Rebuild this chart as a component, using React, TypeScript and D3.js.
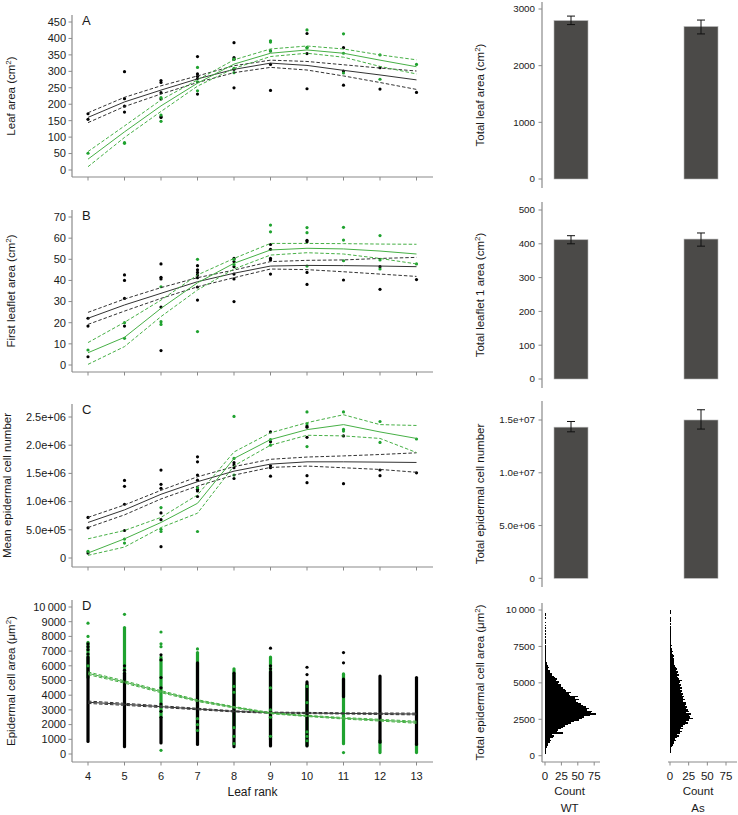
import React from 'react';
import * as d3 from 'd3';

const ranks = [4, 5, 6, 7, 8, 9, 10, 11, 12, 13];
const genotypes = ['WT', 'As'];

// A: leaf area (cm2), [rank, value]
const leafAreaWt = [
  [4, 171], [4, 154],
  [5, 299], [5, 217], [5, 194], [5, 176],
  [6, 272], [6, 266], [6, 235], [6, 216], [6, 162], [6, 160],
  [7, 345], [7, 292], [7, 285], [7, 278], [7, 231],
  [8, 387], [8, 342], [8, 337], [8, 306], [8, 250],
  [9, 362], [9, 321], [9, 242],
  [10, 415], [10, 354], [10, 247],
  [11, 372], [11, 301], [11, 258],
  [12, 311], [12, 246],
  [13, 236],
];
const leafAreaAs = [
  [4, 51],
  [5, 83], [5, 81],
  [6, 220], [6, 167], [6, 148],
  [7, 312], [7, 268], [7, 241],
  [8, 337], [8, 309], [8, 296],
  [9, 393], [9, 389], [9, 362],
  [10, 426], [10, 373], [10, 371],
  [11, 414], [11, 355], [11, 295],
  [12, 350], [12, 276],
  [13, 321],
];
const leafAreaWtFit = [160, 207, 243, 277, 306, 325, 318, 303, 289, 274];
const leafAreaWtLo = [144, 193, 231, 266, 296, 312, 304, 286, 266, 245];
const leafAreaWtHi = [174, 221, 256, 286, 317, 334, 330, 320, 310, 301];
const leafAreaAsFit = [33, 116, 195, 264, 322, 355, 365, 355, 334, 314];
const leafAreaAsLo = [10, 99, 178, 255, 309, 345, 355, 343, 315, 292];
const leafAreaAsHi = [56, 134, 213, 274, 335, 368, 377, 368, 350, 335];

// B: first leaflet area (cm2)
const leafletWt = [
  [4, 22.1], [4, 18.4], [4, 3.9],
  [5, 42.6], [5, 40], [5, 31.5], [5, 18.4],
  [6, 47.8], [6, 41.5], [6, 40.7], [6, 27.4], [6, 6.8],
  [7, 47], [7, 45], [7, 43.8], [7, 42.6], [7, 41.3], [7, 36.9], [7, 30.7],
  [8, 50.4], [8, 48.9], [8, 46.5], [8, 43], [8, 40.7], [8, 30],
  [9, 57], [9, 54.7], [9, 50.4], [9, 49.7], [9, 43],
  [10, 59], [10, 58.3], [10, 43.8], [10, 38.1],
  [11, 40.2],
  [12, 46.5], [12, 35.8],
  [13, 40.4],
];
const leafletAs = [
  [4, 7.1],
  [5, 20], [5, 12.6],
  [6, 37], [6, 20.5], [6, 19.2],
  [7, 50], [7, 15.8],
  [8, 50], [8, 47.5],
  [9, 66.2], [9, 63],
  [10, 65], [10, 62.6], [10, 46.8],
  [11, 65.1], [11, 59.1], [11, 49.3],
  [12, 61.2], [12, 49.7], [12, 45.4],
  [13, 47.8],
];
const leafletWtFit = [22.1, 28.4, 33.9, 39.4, 43.4, 46.8, 47.1, 47, 46.8, 46.5];
const leafletWtLo = [19.2, 25.5, 31.5, 37, 41.3, 45.4, 45.1, 44.1, 43, 41.9];
const leafletWtHi = [24.9, 31.2, 36.6, 41.3, 44.9, 48.9, 49.5, 49.7, 50.4, 50.9];
const leafletAsFit = [5.8, 13.1, 26.8, 38.9, 48.1, 54.4, 55.2, 54.9, 53.9, 52.5];
const leafletAsLo = [0.3, 8.7, 22.9, 35.5, 45.4, 52, 53.1, 52.5, 50.4, 47.8];
const leafletAsHi = [10.6, 20.2, 30.7, 42.6, 50.4, 57.5, 57.5, 57.4, 57.2, 57.1];

// C: mean epidermal cell number
const cellsWt = [
  [4, 7.2e5], [4, 5.35e5], [4, 0.88e5],
  [5, 1.376e6], [5, 1.27e6], [5, 9.53e5], [5, 4.88e5],
  [6, 1.559e6], [6, 1.306e6], [6, 1.235e6], [6, 8.0e5], [6, 6.8e5], [6, 2.0e5],
  [7, 1.794e6], [7, 1.706e6], [7, 1.47e6], [7, 1.38e6], [7, 1.22e6], [7, 1.19e6], [7, 1.09e6],
  [8, 1.69e6], [8, 1.647e6], [8, 1.6e6], [8, 1.41e6],
  [9, 2.235e6], [9, 2.06e6], [9, 1.635e6], [9, 1.6e6], [9, 1.45e6],
  [10, 2.34e6], [10, 2.32e6], [10, 2.14e6], [10, 1.46e6], [10, 1.335e6],
  [11, 2.165e6], [11, 1.318e6],
  [12, 1.56e6], [12, 1.46e6],
  [13, 1.51e6],
];
const cellsAs = [
  [4, 1.18e5],
  [5, 3.35e5], [5, 2.65e5],
  [6, 8.94e5], [6, 5.1e5], [6, 4.7e5],
  [7, 1.247e6], [7, 4.7e5],
  [8, 2.51e6], [8, 1.765e6], [8, 1.47e6],
  [9, 2.1e6], [9, 2.0e6],
  [10, 2.59e6], [10, 2.38e6], [10, 1.976e6],
  [11, 2.59e6], [11, 2.28e6], [11, 2.25e6],
  [12, 2.42e6], [12, 2.05e6],
  [13, 2.11e6],
];
const cellsWtFit = [6.3e5, 8.53e5, 1.13e6, 1.353e6, 1.54e6, 1.665e6, 1.705e6, 1.705e6, 1.7e6, 1.694e6];
const cellsWtLo = [5.4e5, 7.65e5, 1.047e6, 1.276e6, 1.47e6, 1.606e6, 1.63e6, 1.6e6, 1.57e6, 1.52e6];
const cellsWtHi = [7.2e5, 9.4e5, 1.2e6, 1.44e6, 1.62e6, 1.75e6, 1.79e6, 1.81e6, 1.835e6, 1.865e6];
const cellsAsFit = [0.88e5, 3.4e5, 6.3e5, 9.7e5, 1.765e6, 2.1e6, 2.276e6, 2.365e6, 2.235e6, 2.12e6];
const cellsAsLo = [0.47e5, 1.94e5, 5.4e5, 7.94e5, 1.635e6, 2.0e6, 2.176e6, 2.165e6, 2.12e6, 1.87e6];
const cellsAsHi = [3.4e5, 4.88e5, 7.2e5, 1.118e6, 1.88e6, 2.22e6, 2.4e6, 2.54e6, 2.365e6, 2.35e6];

// D: epidermal cell area (um2); dense columns [lo, hi] per rank, plus single cells
const cellAreaWtSpan = [[850, 6600], [500, 5500], [750, 2500], [650, 6200], [500, 5500], [550, 5600], [550, 4900], [3900, 5100], [800, 5300], [650, 5200]];
const cellAreaAsSpan = [[5200, 7600], [4900, 8600], [2500, 6600], [1500, 6900], [1800, 5800], [1000, 6600], [600, 4700], [700, 5400], [100, 900], [100, 700]];
const cellAreaWtPts = [
  [4, 6800], [4, 7100], [4, 7300], [4, 7500],
  [5, 5700], [5, 6000],
  [6, 2900], [6, 3400], [6, 4500], [6, 5200], [6, 6400], [6, 6750],
  [9, 5800], [9, 6000], [9, 7200],
  [10, 5400], [10, 5900],
  [11, 6200], [11, 6900],
];
const cellAreaAsPts = [
  [4, 8000], [4, 8900], [4, 6000],
  [5, 9500],
  [6, 7300], [6, 7500], [6, 8300], [6, 250],
  [7, 7150], [7, 2400], [7, 2000], [7, 1600],
  [8, 4600], [8, 4200], [8, 1800], [8, 1200], [8, 700],
  [9, 4500], [9, 3000], [9, 2500], [9, 1200],
  [10, 4600], [10, 3500], [10, 1500], [10, 1200], [10, 900],
  [11, 5450], [11, 100],
];
const cellAreaWtFit = [3520, 3380, 3220, 3060, 2900, 2810, 2790, 2760, 2740, 2720];
const cellAreaWtLo = [3440, 3310, 3160, 3010, 2860, 2770, 2750, 2720, 2690, 2660];
const cellAreaWtHi = [3600, 3450, 3280, 3110, 2940, 2850, 2830, 2800, 2790, 2780];
const cellAreaAsFit = [5490, 4900, 4240, 3630, 3180, 2780, 2590, 2430, 2300, 2160];
const cellAreaAsLo = [5400, 4820, 4170, 3570, 3130, 2740, 2550, 2380, 2240, 2090];
const cellAreaAsHi = [5580, 4980, 4310, 3690, 3230, 2820, 2630, 2480, 2360, 2230];

// totals (WT, As) with error bar ends
const totalLeafArea = [2795, 2690];
const totalLeafAreaLo = [2725, 2560];
const totalLeafAreaHi = [2875, 2805];
const totalLeaflet = [412, 414];
const totalLeafletLo = [400, 393];
const totalLeafletHi = [424, 432];
const totalCells = [1.432e7, 1.5e7];
const totalCellsLo = [1.388e7, 1.414e7];
const totalCellsHi = [1.486e7, 1.597e7];

// histogram counts, bins of 100 um2 from 0 to 10000
const histWt = [
  0, 1, 1, 2, 2, 3, 3, 5, 4, 7, 9, 8, 12, 14, 11, 27, 18, 20, 24, 28, 31, 35, 40, 44, 52, 56, 60, 68, 78, 70,
  72, 64, 67, 62, 58, 55, 50, 48, 52, 46, 50, 38, 36, 40, 32, 30, 28, 25, 24, 20, 22, 17, 19, 15, 14, 10, 11, 7, 8, 5,
  6, 4, 3, 3, 2, 2, 2, 1, 2, 1, 2, 1, 1, 1, 1, 1, 0, 1, 1, 1, 0, 1, 0, 1, 0, 1, 0, 1, 0, 1,
  0, 1, 0, 0, 1, 0, 1, 1,
];
const histAs = [
  0, 0, 1, 1, 2, 2, 3, 4, 5, 6, 8, 7, 10, 12, 9, 14, 16, 13, 18, 15, 17, 20, 24, 22, 26, 31, 27, 25, 28, 22,
  26, 24, 21, 23, 20, 22, 21, 18, 20, 17, 19, 16, 18, 15, 16, 14, 16, 13, 15, 12, 13, 16, 12, 11, 10, 12, 9, 11, 8, 9,
  8, 7, 6, 6, 5, 6, 5, 4, 5, 4, 3, 4, 3, 3, 2, 3, 2, 2, 2, 2, 1, 1, 2, 1, 1, 1, 1, 1, 1, 0,
  1, 0, 1, 1, 1, 0, 0, 1, 1, 1,
];

const FONT = 'Liberation Sans, Arial, Helvetica, sans-serif';
const AXIS = '#8a8a8a';
const INK = '#1a1a1a';
const GREEN_PT = '#1fa22f';
const GREEN_LN = '#47b046';
const BLACK_LN = '#333333';

const X = d3.scaleLinear().domain([4, 13]).range([88, 416.5]);

const expFmt = (v) => {
  if (v === 0) return '0';
  const [m, e] = v.toExponential(1).split('e');
  return `${m}e${e[0]}${e.slice(1).padStart(2, '0')}`;
};
const spaceFmt = (v) => (v >= 10000 ? '10\u2009000' : String(v));

const Sup = ({ base, sup, after }) => (
  <>
    {base}
    <tspan dy={-4} fontSize={8}>{sup}</tspan>
    <tspan dy={4}>{after}</tspan>
  </>
);

function FitLines({ y, fit, lo, hi, color }) {
  const line = d3.line().x((_, i) => X(ranks[i])).y((v) => y(v));
  return (
    <g fill="none" stroke={color} strokeWidth={1}>
      <path d={line(lo)} strokeDasharray="3.5,2" />
      <path d={line(hi)} strokeDasharray="3.5,2" />
      <path d={line(fit)} />
    </g>
  );
}

function Dots({ y, pts, color }) {
  return (
    <g fill={color}>
      {pts.map(([r, v], i) => (
        <circle key={i} cx={X(r)} cy={y(v)} r={1.6} />
      ))}
    </g>
  );
}

function LeftAxes({ y, top, bottom, ticks, fmt, letter, title, titleX, xLabels }) {
  const mid = (top + bottom) / 2;
  return (
    <g fontFamily={FONT}>
      <line x1={72} x2={72} y1={top} y2={bottom} stroke={AXIS} strokeWidth={1.2} />
      <line x1={72} x2={433} y1={bottom} y2={bottom} stroke={AXIS} strokeWidth={1.2} />
      {ticks.map((t) => (
        <g key={t}>
          <line x1={68.5} x2={72} y1={y(t)} y2={y(t)} stroke={AXIS} />
          <text x={66} y={y(t)} dy="0.35em" textAnchor="end" fontSize={11} fill={INK}>{fmt(t)}</text>
        </g>
      ))}
      {ranks.map((r) => (
        <line key={r} x1={X(r)} x2={X(r)} y1={bottom} y2={bottom + 3.5} stroke={AXIS} />
      ))}
      {xLabels && ranks.map((r) => (
        <text key={r} x={X(r)} y={780} textAnchor="middle" fontSize={11} fill={INK}>{r}</text>
      ))}
      <text x={82} y={top + 9.5} fontSize={13} fill={INK}>{letter}</text>
      <text transform={`translate(${titleX},${mid}) rotate(-90)`} textAnchor="middle" fontSize={11.5} fill={INK}>{title}</text>
    </g>
  );
}

function RankPanel({ y, top, bottom, ticks, fmt, letter, title, titleX, wtPts, asPts, fits }) {
  return (
    <g>
      <LeftAxes y={y} top={top} bottom={bottom} ticks={ticks} fmt={fmt} letter={letter} title={title} titleX={titleX} />
      <Dots y={y} pts={wtPts} color="#000" />
      <Dots y={y} pts={asPts} color={GREEN_PT} />
      <FitLines y={y} fit={fits[0]} lo={fits[1]} hi={fits[2]} color={BLACK_LN} />
      <FitLines y={y} fit={fits[3]} lo={fits[4]} hi={fits[5]} color={GREEN_LN} />
    </g>
  );
}

const xBar = d3.scalePoint().domain(genotypes).range([571, 701]);

function RightAxis({ y, top, bottom, ticks, fmt, title }) {
  return (
    <g fontFamily={FONT}>
      <line x1={542} x2={542} y1={top} y2={bottom} stroke={AXIS} strokeWidth={1.2} />
      {ticks.map((t) => (
        <g key={t}>
          <line x1={538.5} x2={542} y1={y(t)} y2={y(t)} stroke={AXIS} />
          <text x={535} y={y(t)} dy="0.35em" textAnchor="end" fontSize={9.8} fill={INK}>{fmt(t)}</text>
        </g>
      ))}
      <text transform={`translate(484,${(top + bottom) / 2}) rotate(-90)`} textAnchor="middle" fontSize={11.5} fill={INK}>{title}</text>
    </g>
  );
}

function BarPanel({ y, top, bottom, ticks, fmt, title, means, lo, hi }) {
  return (
    <g>
      <RightAxis y={y} top={top} bottom={bottom} ticks={ticks} fmt={fmt} title={title} />
      {genotypes.map((g, i) => (
        <g key={g}>
          <rect x={xBar(g) - 17} y={y(means[i])} width={34} height={y(0) - y(means[i])} fill="#4b4a48" stroke="#b5b5b5" strokeWidth={0.6} />
          <g stroke="#111" strokeWidth={1}>
            <line x1={xBar(g)} x2={xBar(g)} y1={y(lo[i])} y2={y(hi[i])} />
            <line x1={xBar(g) - 4} x2={xBar(g) + 4} y1={y(lo[i])} y2={y(lo[i])} />
            <line x1={xBar(g) - 4} x2={xBar(g) + 4} y1={y(hi[i])} y2={y(hi[i])} />
          </g>
        </g>
      ))}
    </g>
  );
}

const binW = 100;
const yHist = d3.scaleLinear().domain([0, 10000]).range([755.7, 610]);

function Histogram({ counts, x, from, to, label }) {
  return (
    <g fontFamily={FONT}>
      <g fill="#000" shapeRendering="crispEdges">
        {counts.map((c, i) => c > 0 && (
          <rect key={i} x={x(0)} y={yHist((i + 1) * binW)} width={x(c) - x(0)} height={yHist(i * binW) - yHist((i + 1) * binW)} />
        ))}
      </g>
      <line x1={from} x2={to} y1={762} y2={762} stroke={AXIS} strokeWidth={1.2} />
      {[0, 25, 50, 75].map((t) => (
        <g key={t}>
          <line x1={x(t)} x2={x(t)} y1={762} y2={765.5} stroke={AXIS} />
          <text x={x(t)} y={780} textAnchor="middle" fontSize={11.5} fill={INK}>{t}</text>
        </g>
      ))}
      <text x={x(37.5)} y={795} textAnchor="middle" fontSize={11.5} fill={INK}>Count</text>
      <text x={x(37.5)} y={812} textAnchor="middle" fontSize={11.5} fill={INK}>{label}</text>
    </g>
  );
}

export default function App() {
  const yA = d3.scaleLinear().domain([0, 450]).range([170, 22]);
  const yB = d3.scaleLinear().domain([0, 70]).range([365, 217]);
  const yC = d3.scaleLinear().domain([0, 2.5e6]).range([558, 417]);
  const yD = d3.scaleLinear().domain([0, 10000]).range([754, 607]);

  const yBarA = d3.scaleLinear().domain([0, 3000]).range([179, 9]);
  const yBarB = d3.scaleLinear().domain([0, 500]).range([379, 210]);
  const yBarC = d3.scaleLinear().domain([0, 1.5e7]).range([578.3, 420]);

  const xHistWt = d3.scaleLinear().domain([0, 75]).range([545, 594.2]);
  const xHistAs = d3.scaleLinear().domain([0, 75]).range([670, 726]);

  return (
    <svg width={738} height={815} style={{ position: 'absolute', left: 0, top: 0, background: '#fff' }}>
      <RankPanel
        y={yA} top={15} bottom={177} ticks={d3.range(0, 451, 50)} fmt={String} letter="A" titleX={15}
        title={<Sup base="Leaf area (cm" sup="2" after=")" />}
        wtPts={leafAreaWt} asPts={leafAreaAs}
        fits={[leafAreaWtFit, leafAreaWtLo, leafAreaWtHi, leafAreaAsFit, leafAreaAsLo, leafAreaAsHi]}
      />
      <RankPanel
        y={yB} top={210} bottom={372} ticks={d3.range(0, 71, 10)} fmt={String} letter="B" titleX={15}
        title={<Sup base="First leaflet area (cm" sup="2" after=")" />}
        wtPts={leafletWt} asPts={leafletAs}
        fits={[leafletWtFit, leafletWtLo, leafletWtHi, leafletAsFit, leafletAsLo, leafletAsHi]}
      />
      <RankPanel
        y={yC} top={404} bottom={567} ticks={[0, 5e5, 1e6, 1.5e6, 2e6, 2.5e6]} fmt={expFmt} letter="C" titleX={11}
        title="Mean epidermal cell number"
        wtPts={cellsWt} asPts={cellsAs}
        fits={[cellsWtFit, cellsWtLo, cellsWtHi, cellsAsFit, cellsAsLo, cellsAsHi]}
      />

      {/* D: dense cell columns */}
      <g>
        <LeftAxes
          y={yD} top={600} bottom={762} ticks={d3.range(0, 10001, 1000)} fmt={spaceFmt} letter="D" titleX={15} xLabels
          title={<Sup base="Epidermal cell area (μm" sup="2" after=")" />}
        />
        <g stroke={GREEN_PT} strokeWidth={3.2} strokeLinecap="round">
          {cellAreaAsSpan.map(([lo, hi], i) => (
            <line key={i} x1={X(ranks[i])} x2={X(ranks[i])} y1={yD(lo)} y2={yD(hi)} />
          ))}
        </g>
        <g stroke="#000" strokeWidth={3.2} strokeLinecap="round">
          {cellAreaWtSpan.map(([lo, hi], i) => (
            <line key={i} x1={X(ranks[i])} x2={X(ranks[i])} y1={yD(lo)} y2={yD(hi)} />
          ))}
        </g>
        <Dots y={yD} pts={cellAreaWtPts} color="#000" />
        <Dots y={yD} pts={cellAreaAsPts} color={GREEN_PT} />
        <FitLines y={yD} fit={cellAreaWtFit} lo={cellAreaWtLo} hi={cellAreaWtHi} color={BLACK_LN} />
        <FitLines y={yD} fit={cellAreaAsFit} lo={cellAreaAsLo} hi={cellAreaAsHi} color={GREEN_LN} />
        <text x={252.5} y={796} textAnchor="middle" fontSize={12} fontFamily={FONT} fill={INK}>Leaf rank</text>
      </g>

      <BarPanel
        y={yBarA} top={2} bottom={188} ticks={[0, 1000, 2000, 3000]} fmt={String}
        title={<Sup base="Total leaf area (cm" sup="2" after=")" />}
        means={totalLeafArea} lo={totalLeafAreaLo} hi={totalLeafAreaHi}
      />
      <BarPanel
        y={yBarB} top={202} bottom={388} ticks={d3.range(0, 501, 100)} fmt={String}
        title={<Sup base="Total leaflet 1 area (cm" sup="2" after=")" />}
        means={totalLeaflet} lo={totalLeafletLo} hi={totalLeafletHi}
      />
      <BarPanel
        y={yBarC} top={401} bottom={587} ticks={[0, 5e6, 1e7, 1.5e7]} fmt={expFmt}
        title="Total epidermal cell number"
        means={totalCells} lo={totalCellsLo} hi={totalCellsHi}
      />

      <RightAxis
        y={yHist} top={603} bottom={762} ticks={[0, 2500, 5000, 7500, 10000]} fmt={spaceFmt}
        title={<Sup base="Total epidermal cell area (μm" sup="2" after=")" />}
      />
      <Histogram counts={histWt} x={xHistWt} from={542} to={600} label="WT" />
      <Histogram counts={histAs} x={xHistAs} from={668} to={737} label="As" />
    </svg>
  );
}
